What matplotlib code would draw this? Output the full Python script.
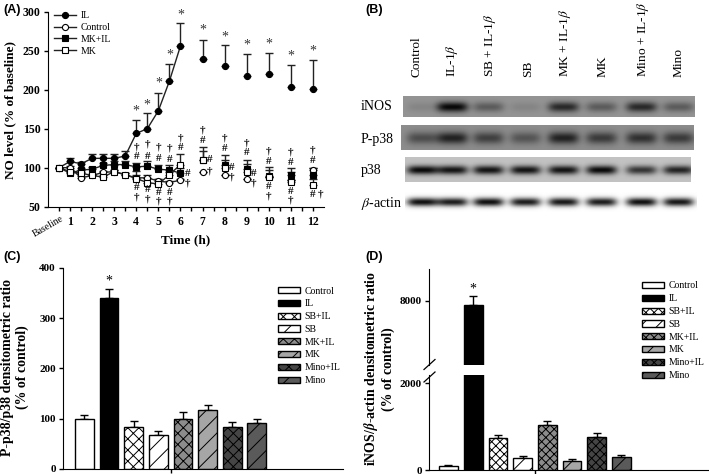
import matplotlib
matplotlib.use('Agg')
import matplotlib.pyplot as plt
import numpy as np

plt.rcParams['font.family'] = ['Liberation Serif', 'DejaVu Serif']
plt.rcParams['mathtext.fontset'] = 'stix'
plt.rcParams['hatch.linewidth'] = 0.7

W, H = 709, 474

# panel A, NO level
time = [0.5, 1, 1.5, 2, 2.5, 3, 3.5, 4, 4.5, 5, 5.5, 6, 7, 8, 9, 10, 11, 12]
il = [100, 108, 105, 112, 112, 112, 115, 144, 150, 173, 211, 256, 239, 230, 218, 220, 203, 201]
il_top = [100, 113, 107, 118, 117, 117, 122, 161, 170, 196, 233, 286, 264, 257, 246, 247, 232, 238]
control = [100, 100, 87, 90, 94, 95, 91, 87, 87, 83, 81, 84, 95, 91, 85, 88, 84, 97]
control_top = [100, 102, 89, 92, 96, 97, 93, 90, 90, 86, 83, 86, 95, 91, 85, 88, 84, 100]
mk_il = [100, 93, 97, 98, 103, 104, 104, 101, 102, 98, 97, 93, 110, 104, 98, 89, 90, 91]
mk_il_top = [100, 96, 100, 101, 106, 108, 108, 106, 108, 104, 103, 99, 127, 116, 110, 101, 100, 100]
mk = [100, 95, 93, 90, 88, 95, 91, 86, 81, 79, 91, 104, 110, 99, 94, 88, 82, 78]
mk_top = [100, 97, 95, 92, 90, 97, 93, 96, 87, 85, 95, 118, 122, 110, 105, 97, 95, 85]

star_t = [4, 4.5, 5, 5.5, 6, 7, 8, 9, 10, 11, 12]
star_y = [172, 180, 208, 244, 296, 276, 268, 257, 258, 243, 250]
upper_t = [4, 4.5, 5, 5.5, 6, 7, 8, 9, 10, 11, 12]
upper_hash = [114, 114, 112, 111, 126, 135, 125, 119, 108, 107, 109]
upper_dag = [127, 130, 126, 125, 138, 148, 138, 132, 122, 120, 123]
lower_t = [4, 4.5, 5, 5.5, 10, 11, 12]
lower_hash = [74, 72, 68, 68, 76, 69, 66]
lower_dag = [63, 60, 57, 57, 64, 58, None]
side_t = [6, 7, 8, 9]
side_hash = [93, 110, 100, 93]
side_dag = [80, 96, 88, 80]

# panels C and D, densitometry
groups = ['Control', 'IL', 'SB+IL', 'SB', 'MK+IL', 'MK', 'Mino+IL', 'Mino']
pp38 = [100, 340, 83, 67, 100, 118, 84, 92]
pp38_err = [7, 17, 12, 8, 14, 9, 10, 7]
inos = [100, 7830, 740, 270, 1040, 210, 770, 300]
inos_err = [15, 420, 70, 45, 80, 45, 75, 45]
bar_face = ['white', 'black', 'white', 'white', '#8c8c8c', '#a6a6a6', '#454545', '#5a5a5a']

# panel B, blot
lanes = ['Control', 'IL-1$\\beta$', 'SB + IL-1$\\beta$', 'SB', 'MK + IL-1$\\beta$', 'MK',
         'Mino + IL-1$\\beta$', 'Mino']
label_px = [417, 452, 490, 528, 565, 603, 643, 679]
lane_px = [422, 452, 488, 525, 563, 601, 641, 678]
inos_band = [0.06, 0.55, 0.22, 0.06, 0.42, 0.22, 0.42, 0.22]
pp38_band = [0.25, 0.42, 0.3, 0.22, 0.42, 0.32, 0.36, 0.32]
p38_band = [0.72, 0.68, 0.68, 0.68, 0.68, 0.72, 0.55, 0.62]
actin_band = [0.95, 0.9, 0.95, 0.9, 0.92, 0.9, 0.95, 0.92]

fig = plt.figure(figsize=(W / 100, H / 100), dpi=100)


def axes_px(left, top, right, bottom):
    return fig.add_axes([left / W, 1 - bottom / H, (right - left) / W, (bottom - top) / H])


def text_px(x, y, s, **kw):
    fig.text(x / W, 1 - y / H, s, **kw)


def clean(ax):
    ax.spines['top'].set_visible(False)
    ax.spines['right'].set_visible(False)
    ax.patch.set_alpha(0)


# (A)
ax = axes_px(47.5, 11.7, 324, 206.7)
clean(ax)
styles = [(il, il_top, 'o', 'black', 'IL'), (control, control_top, 'o', 'white', 'Control'),
          (mk_il, mk_il_top, 's', 'black', 'MK+IL'), (mk, mk_top, 's', 'white', 'MK')]
handles = []
for vals, tops, marker, face, name in styles:
    err = np.array(tops) - np.array(vals)
    ax.errorbar(time, vals, yerr=[np.zeros(len(err)), err], fmt='none', ecolor='#222222',
                elinewidth=1, capsize=3, capthick=1, zorder=2)
    line, = ax.plot(time[:12], vals[:12], color='#222222', lw=1, marker=marker, ms=4.4,
                    mfc=face, mec='black', mew=0.8, zorder=3, label=name)
    ax.plot(time[12:], vals[12:], ls='none', marker=marker, ms=4.4, mfc=face, mec='black',
            mew=0.8, zorder=3)
    handles.append(line)

sym = dict(ha='center', va='center', fontsize=8, color='#111111', fontweight='bold')
for t, y in zip(star_t, star_y):
    ax.text(t, y, '*', fontsize=10, ha='center', va='center', color='#333333')
for t, a, b in zip(upper_t, upper_hash, upper_dag):
    ax.text(t, a, '#', **sym)
    ax.text(t, b, '†', **sym)
for t, a, b in zip(lower_t, lower_hash, lower_dag):
    ax.text(t, a, '#', **sym)
    if b is not None:
        ax.text(t, b, '†', **sym)
ax.text(12.32, 66, '†', **sym)
for t, a, b in zip(side_t, side_hash, side_dag):
    ax.text(t + 0.32, a, '#', **sym)
    ax.text(t + 0.32, b, '†', **sym)

ax.set_xlim(-0.02, 12.5)
ax.set_ylim(50, 300)
ax.set_yticks([50, 100, 150, 200, 250, 300])
ax.set_xticks(np.arange(0.5, 12.5, 0.5))
ax.tick_params(length=3, width=1, labelsize=8.5, pad=2, labelbottom=False)
for label in ax.get_yticklabels():
    label.set_fontweight('bold')
for h in range(1, 13):
    ax.text(h, 30.5, str(h), ha='center', va='center', fontsize=8.5, fontweight='bold')
ax.text(0.55, 40, 'Baseline', ha='right', va='top', fontsize=7, rotation=30, rotation_mode='anchor')
fig.legend(handles=handles, loc='upper left', bbox_to_anchor=(54 / W, 1 - 11 / H), frameon=False,
           fontsize=7, handlelength=2.25, labelspacing=0.3, handletextpad=0.45, borderpad=0,
           borderaxespad=0)
text_px(10, 110, 'NO level (% of baseline)', rotation=90, ha='center', va='center',
        fontsize=9.5, fontweight='bold')
text_px(186, 240, 'Time (h)', ha='center', va='center', fontsize=9.5, fontweight='bold')

# (B)
text_px(365, 10, '(B)', family='Liberation Sans', fontweight='bold', fontsize=9, ha='left', va='center')
for x, name in zip(label_px, lanes):
    text_px(x, 77, name, rotation=90, ha='center', va='bottom', fontsize=9.6)


def blot(left, top, right, bottom, bands, bg, band_h):
    ax_b = axes_px(left, top, right, bottom)
    xs = np.arange(left, right)
    ys = np.arange(top, bottom)
    img = np.full((len(ys), len(xs)), bg, dtype=float)
    mid = (top + bottom) / 2
    for cx, depth in zip(lane_px, bands):
        across = np.exp(-((xs - cx) / 15.5) ** 4)
        down = np.exp(-((ys - mid) / band_h) ** 2)
        img -= depth * np.outer(down, across)
    ax_b.imshow(np.clip(img, 0, 1), cmap='gray', vmin=0, vmax=1, aspect='auto', interpolation='bicubic')
    ax_b.axis('off')


blot(403, 96, 695, 117, inos_band, 0.58, 5)
blot(401, 125, 694, 150, pp38_band, 0.55, 6)
blot(405, 157, 691, 182, p38_band, 0.76, 4.5)
blot(405, 192, 697, 212, actin_band, 1.0, 4)
for y, name in zip([107, 139, 170, 203], ['iNOS', 'P-p38', 'p38', '$\\beta$-actin']):
    text_px(361, y, name, ha='left', va='center', fontsize=10)


def bars(ax_b, vals, errs, hatch_x, hatch_s):
    hatches = [None, None, hatch_x, hatch_s, hatch_x, hatch_s, hatch_x, hatch_s]
    out = ax_b.bar(range(8), vals, width=0.76, color=bar_face, edgecolor='black', linewidth=1,
                   hatch=hatches, zorder=2)
    ax_b.errorbar(range(8), vals, yerr=[[0] * 8, errs], fmt='none', ecolor='black', elinewidth=1,
                  capsize=3, capthick=1, zorder=1)
    return out


legend_kw = dict(loc='upper left', frameon=False, fontsize=7, handlelength=2.25, handleheight=0.6,
                 labelspacing=0.39, handletextpad=0.5, borderpad=0, borderaxespad=0)

# (C)
text_px(3, 257, '(C)', family='Liberation Sans', fontweight='bold', fontsize=9, ha='left', va='center')
ax = axes_px(62.7, 267.7, 343, 469)
clean(ax)
c_bars = bars(ax, pp38, pp38_err, 'xxx', '//')
ax.set_xlim(-0.878, 10.5)
ax.set_ylim(0, 400)
ax.set_yticks([0, 100, 200, 300, 400])
ax.set_xticks([3.5])
ax.tick_params(length=3, width=1, labelsize=8, pad=2, labelbottom=False)
for label in ax.get_yticklabels():
    label.set_fontweight('bold')
ax.text(1, 374, '*', ha='center', va='center', fontsize=10)
fig.legend(c_bars, groups, bbox_to_anchor=(278 / W, 1 - 286.5 / H), **legend_kw)
text_px(15, 367, 'P-p38/p38 densitometric ratio\n(% of control)', rotation=90, ha='center',
        va='center', fontsize=10, fontweight='bold', linespacing=1.2, multialignment='center')

# (D)
text_px(365, 257, '(D)', family='Liberation Sans', fontweight='bold', fontsize=9, ha='left', va='center')
top_ax = axes_px(428.7, 269, 708, 365)
low_ax = axes_px(428.7, 375, 708, 470)
for a in (top_ax, low_ax):
    clean(a)
    a.set_xlim(-0.8, 10.5)
d_bars = bars(low_ax, inos, inos_err, 'xxxx', '//')
bars(top_ax, inos, inos_err, 'xxxx', '//')
top_ax.set_ylim(5000, 9500)
low_ax.set_ylim(0, 2192)
top_ax.spines['bottom'].set_visible(False)
top_ax.set_xticks([])
top_ax.set_yticks([8000])
low_ax.set_yticks([0, 2000])
low_ax.set_xticks([3.5])
low_ax.tick_params(labelbottom=False)
for a in (top_ax, low_ax):
    a.tick_params(length=3, width=1, labelsize=8, pad=2)
    for label in a.get_yticklabels():
        label.set_fontweight('bold')
top_ax.text(1, 8560, '*', ha='center', va='center', fontsize=10)
for y0 in (365.5, 378):
    fig.add_artist(plt.Line2D([424 / W, 435 / W], [1 - (y0 + 4) / H, 1 - (y0 - 6) / H],
                              color='black', lw=0.9))
fig.legend(d_bars, groups, bbox_to_anchor=(642 / W, 1 - 281.5 / H), **legend_kw)
text_px(378.5, 369, 'iNOS/$\\mathbfit{\\beta}$-actin densitometric ratio\n(% of control)', rotation=90,
        ha='center', va='center', fontsize=10, fontweight='bold', linespacing=1.2, multialignment='center')

text_px(3, 10, '(A)', family='Liberation Sans', fontweight='bold', fontsize=9, ha='left', va='center')

fig.savefig('out.png', dpi=100)
